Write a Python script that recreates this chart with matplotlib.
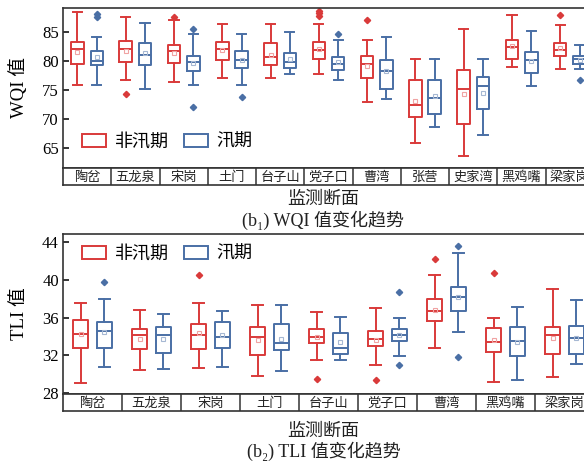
import numpy as np
import matplotlib
matplotlib.use("Agg")
import matplotlib.pyplot as plt
from matplotlib.patches import Patch

plt.rcParams['font.family'] = ['Liberation Serif', 'Noto Sans CJK SC', 'DejaVu Sans']

RED = '#d93a3a'
BLUE = '#4a6fa5'
RED_MEAN = '#f0a3a3'
BLUE_MEAN = '#a6b8d3'

# WQI, 11 sections
wqi_sites = ['陶岔', '五龙泉', '宋岗', '土门', '台子山', '党子口', '曹湾', '张营', '史家湾', '黑鸡嘴', '梁家岗']
# non-flood season
wqi_n_lo = [75.8, 76.8, 76.3, 77.1, 77.1, 77.7, 72.9, 65.9, 63.6, 79.0, 78.6]
wqi_n_q1 = [79.4, 79.9, 79.7, 80.1, 79.3, 80.4, 77.1, 70.3, 69.2, 80.4, 80.9]
wqi_n_med = [82.0, 82.1, 81.7, 82.0, 80.7, 81.9, 79.5, 72.5, 75.2, 82.4, 81.8]
wqi_n_q3 = [83.2, 83.4, 82.8, 83.2, 83.0, 83.2, 80.9, 76.7, 78.4, 83.6, 83.1]
wqi_n_hi = [88.4, 87.5, 87.1, 86.4, 86.4, 86.4, 83.6, 80.4, 85.5, 87.9, 86.1]
wqi_n_mean = [81.6, 81.7, 81.4, 81.8, 81.1, 82.1, 79.1, 73.2, 74.3, 82.6, 82.3]
wqi_n_out = [[], [74.3], [87.6], [], [], [88.6, 88.2, 87.8], [87.0], [], [], [], [87.9]]
# flood season
wqi_f_lo = [75.8, 75.2, 75.8, 75.8, 77.7, 76.7, 73.4, 68.7, 67.2, 75.7, 78.6]
wqi_f_q1 = [79.3, 79.3, 78.2, 78.8, 78.8, 78.4, 75.2, 70.8, 71.8, 77.9, 79.4]
wqi_f_med = [80.0, 81.0, 79.9, 80.2, 79.9, 79.5, 78.2, 73.6, 75.7, 80.2, 80.3]
wqi_f_q3 = [81.7, 83.1, 80.9, 81.7, 81.4, 80.7, 80.2, 76.7, 77.2, 81.6, 80.9]
wqi_f_hi = [84.1, 86.5, 84.7, 84.7, 85.0, 83.6, 84.1, 80.4, 80.4, 85.1, 82.8]
wqi_f_mean = [80.6, 81.3, 79.7, 80.2, 80.3, 79.8, 78.3, 74.0, 74.5, 80.0, 80.1]
wqi_f_out = [[88.0, 87.5], [], [85.5, 72.1], [73.8], [], [84.6], [], [], [], [], [76.7]]

# TLI, 9 sections
tli_sites = ['陶岔', '五龙泉', '宋岗', '土门', '台子山', '党子口', '曹湾', '黑鸡嘴', '梁家岗']
tli_n_lo = [29.0, 30.4, 30.6, 29.8, 31.5, 30.9, 32.75, 29.1, 29.7]
tli_n_q1 = [32.75, 32.6, 32.6, 31.96, 33.25, 33.0, 35.6, 32.3, 32.1]
tli_n_med = [34.2, 34.1, 34.1, 33.95, 33.9, 33.7, 36.7, 33.35, 34.1]
tli_n_q3 = [35.7, 34.8, 35.3, 35.0, 34.8, 34.6, 38.0, 34.9, 35.0]
tli_n_hi = [37.5, 36.8, 37.5, 37.3, 36.6, 37.0, 40.5, 35.9, 39.0]
tli_n_mean = [34.2, 33.7, 34.3, 33.6, 33.9, 33.6, 36.8, 33.6, 33.8]
tli_n_out = [[], [], [40.5], [], [29.4], [29.3], [42.25], [40.75], []]
tli_f_lo = [30.75, 30.5, 30.7, 30.3, 31.5, 31.9, 34.5, 29.3, 31.1]
tli_f_q1 = [32.75, 32.2, 32.75, 32.5, 32.1, 33.5, 36.7, 31.9, 32.1]
tli_f_med = [34.6, 34.1, 33.9, 33.3, 32.75, 34.1, 38.2, 33.5, 33.8]
tli_f_q3 = [35.5, 35.0, 35.5, 35.3, 34.4, 34.8, 39.3, 35.0, 35.1]
tli_f_hi = [38.0, 36.4, 36.7, 37.3, 36.1, 35.9, 42.9, 37.1, 37.9]
tli_f_mean = [34.5, 33.7, 34.1, 33.7, 33.4, 34.1, 38.2, 33.4, 33.8]
tli_f_out = [[39.8], [], [], [], [], [38.7, 30.9], [43.6, 31.8], [], []]

W, H = 584, 463


def make_stats(lo, q1, med, q3, hi, mean, out):
    return [dict(whislo=a, q1=b, med=c, q3=d, whishi=e, mean=f, fliers=g)
            for a, b, c, d, e, f, g in zip(lo, q1, med, q3, hi, mean, out)]


def draw_boxes(ax, stats, pos, color, mean_color):
    ax.bxp(stats, positions=pos, widths=0.26, showmeans=True, patch_artist=False,
           manage_ticks=False, capwidths=0.19,
           boxprops=dict(color=color, linewidth=1.4),
           medianprops=dict(color=color, linewidth=1.4),
           whiskerprops=dict(color=color, linewidth=1.4),
           capprops=dict(color=color, linewidth=1.4),
           flierprops=dict(marker='D', markerfacecolor=color, markeredgecolor=color, markersize=3.2),
           meanprops=dict(marker='s', markerfacecolor='none', markeredgecolor=mean_color,
                          markersize=3.5, markeredgewidth=0.8))


def panel(y_top, sites, non, flood, ylim, yticks, ylabel, legend_y, caption, text_dy):
    n = len(sites)
    # main box area and the label strip below it, in pixels
    left, right = 63, 594
    ax = fig.add_axes([left / W, 1 - (y_top + 160) / H, (right - left) / W, 160 / H])
    strip = fig.add_axes([left / W, 1 - (y_top + 177) / H, (right - left) / W, 17 / H])
    x = np.arange(1, n + 1)
    draw_boxes(ax, make_stats(*non), x - 0.2, RED, RED_MEAN)
    draw_boxes(ax, make_stats(*flood), x + 0.2, BLUE, BLUE_MEAN)
    ax.set_xlim(0.5, n + 0.5)
    ax.set_ylim(*ylim)
    ax.set_yticks(yticks)
    ax.set_xticks([])
    ax.tick_params(axis='y', direction='in', length=4, width=1.1, labelsize=12, pad=3)
    ax.set_ylabel(ylabel, fontsize=13.5)
    ax.yaxis.set_label_coords(-0.066, 0.5)
    for s in ax.spines.values():
        s.set_linewidth(1.2)
        s.set_color('#333333')

    strip.set_xlim(0.5, n + 0.5)
    strip.set_ylim(0, 1)
    strip.set_xticks([])
    strip.set_yticks([])
    for s in strip.spines.values():
        s.set_linewidth(1.2)
        s.set_color('#333333')
    for b in np.arange(1.5, n, 1.0):
        strip.axvline(b, color='#333333', linewidth=1.1)
    for xi, name in zip(x, sites):
        strip.text(xi, 0.45, name, ha='center', va='center', fontsize=9.5,
                   family=['Noto Sans CJK SC'], color='#222222')

    handles = [Patch(facecolor='white', edgecolor=RED, linewidth=1.4, label='非汛期'),
               Patch(facecolor='white', edgecolor=BLUE, linewidth=1.4, label='汛期')]
    ax.legend(handles=handles, loc='center left', bbox_to_anchor=(0.036, legend_y),
              ncol=2, frameon=False, handlelength=1.35, handleheight=0.7,
              handletextpad=0.45, columnspacing=0.85, borderpad=0, borderaxespad=0,
              prop=dict(family=['Noto Sans CJK SC'], size=13))

    cx = (left + 584) / 2 / W
    fig.text(cx, 1 - (y_top + text_dy[0]) / H, '监测断面', ha='center', va='center', fontsize=13,
             family=['Noto Sans CJK SC'], color='#222222')
    fig.text(cx, 1 - (y_top + text_dy[1]) / H, caption, ha='center', va='center', fontsize=13,
             color='#222222')
    return ax


fig = plt.figure(figsize=(W / 100, H / 100), dpi=100)

panel(8, wqi_sites,
      (wqi_n_lo, wqi_n_q1, wqi_n_med, wqi_n_q3, wqi_n_hi, wqi_n_mean, wqi_n_out),
      (wqi_f_lo, wqi_f_q1, wqi_f_med, wqi_f_q3, wqi_f_hi, wqi_f_mean, wqi_f_out),
      (61.6, 89.1), [65, 70, 75, 80, 85], 'WQI 值', 0.1625, '(b\u2081) WQI 值变化趋势', (191, 212))

panel(234, tli_sites,
      (tli_n_lo, tli_n_q1, tli_n_med, tli_n_q3, tli_n_hi, tli_n_mean, tli_n_out),
      (tli_f_lo, tli_f_q1, tli_f_med, tli_f_q3, tli_f_hi, tli_f_mean, tli_f_out),
      (27.85, 44.9), [28, 32, 36, 40, 44], 'TLI 值', 0.875, '(b\u2082) TLI 值变化趋势', (197, 217))

fig.savefig('out.png', dpi=100)
